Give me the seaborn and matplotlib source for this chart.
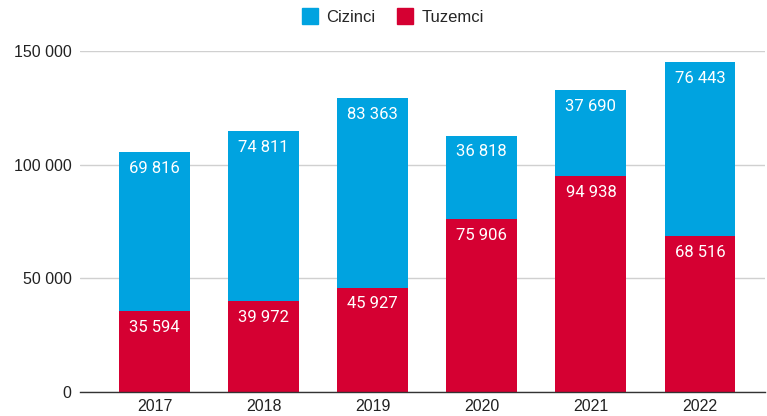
import matplotlib
matplotlib.use("Agg")
import matplotlib.pyplot as plt
import seaborn as sns
import pandas as pd
from matplotlib.lines import Line2D

years = ["2017", "2018", "2019", "2020", "2021", "2022"]
tuzemci = [35594, 39972, 45927, 75906, 94938, 68516]
cizinci = [69816, 74811, 83363, 36818, 37690, 76443]
yticks = [0, 50000, 100000, 150000]

BLUE = "#00A3E0"
RED = "#D50032"

def fmt(v):
    return f"{v:,}".replace(",", " ")

df = pd.DataFrame({"year": years, "Tuzemci": tuzemci, "Cizinci": cizinci})
df["total"] = df["Tuzemci"] + df["Cizinci"]

sns.set_theme(style="white")
plt.rcParams["font.family"] = ["Liberation Sans", "DejaVu Sans"]

fig = plt.figure(figsize=(7.67, 4.16), dpi=100)
ax = fig.add_axes([80/767, 24/416, 685/767, 341/416])

sns.barplot(data=df, x="year", y="total", color=BLUE, saturation=1, width=0.65,
            ax=ax, zorder=2, linewidth=0, edgecolor="none")
sns.barplot(data=df, x="year", y="Tuzemci", color=RED, saturation=1, width=0.65,
            ax=ax, zorder=3, linewidth=0, edgecolor="none")

ax.bar_label(ax.containers[0], labels=[fmt(v) for v in df["Cizinci"]], label_type="edge",
             padding=-17, color="white", fontsize=12, family="Roboto")
ax.bar_label(ax.containers[1], labels=[fmt(v) for v in df["Tuzemci"]], label_type="edge",
             padding=-17, color="white", fontsize=12, family="Roboto")
for t in ax.texts:
    t.set_zorder(5)

ax.set_ylim(0, 150000)
ax.set_xlim(-0.683, 5.596)
ax.set_yticks(yticks)
ax.set_yticklabels([fmt(v) for v in yticks])
ax.yaxis.grid(True, color="#d0d0d0", linewidth=1, zorder=0)
ax.set_axisbelow(True)
for s in ["top", "right", "left"]:
    ax.spines[s].set_visible(False)
ax.spines["bottom"].set_color("#333333")
ax.spines["bottom"].set_linewidth(1)
ax.spines["bottom"].set_zorder(4)
ax.tick_params(axis="both", length=0, labelsize=11.5, colors="#222222")
ax.tick_params(axis="y", pad=6)
ax.tick_params(axis="x", pad=5)
ax.set_xlabel("")
ax.set_ylabel("")

handles = [Line2D([], [], marker="s", linestyle="", markersize=12, color=BLUE),
           Line2D([], [], marker="s", linestyle="", markersize=12, color=RED)]
fig.legend(handles, ["Cizinci", "Tuzemci"], loc="upper center", ncol=2,
           bbox_to_anchor=(0.512, 1.012), frameon=False, fontsize=12,
           handletextpad=0.48, columnspacing=1.26, handlelength=1.0)

fig.savefig("out.png", dpi=100)
